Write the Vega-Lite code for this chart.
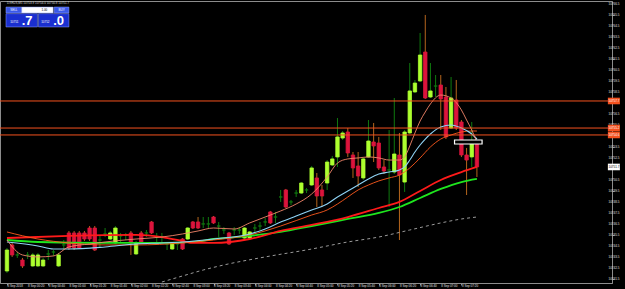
{
"$schema":"https://vega.github.io/schema/vega-lite/v6.json",
"width":612,"height":282,
"padding":{"left":0,"top":1,"right":13,"bottom":6},
"autosize":{"type":"none"},
"background":"#000000",
"config":{"view":{"stroke":"#8c8c8c","strokeWidth":1},"font":"Liberation Sans","axis":{"titleOpacity":0}},
"resolve":{"scale":{"color":"independent","fill":"independent"}},
"datasets":{
"candles":[
{"t":"2018-09-08T00:00","o":10742.22,"h":10744.31,"l":10742.04,"c":10744.13},
{"t":"2018-09-08T00:05","o":10744.59,"h":10744.77,"l":10743.5,"c":10743.68},
{"t":"2018-09-08T00:10","o":10743.68,"h":10743.95,"l":10743.41,"c":10743.68},
{"t":"2018-09-08T00:15","o":10743.22,"h":10743.41,"l":10742.5,"c":10742.68},
{"t":"2018-09-08T00:20","o":10743.68,"h":10743.95,"l":10743.31,"c":10743.68},
{"t":"2018-09-08T00:25","o":10742.68,"h":10743.86,"l":10742.59,"c":10743.68},
{"t":"2018-09-08T00:30","o":10742.68,"h":10743.86,"l":10742.59,"c":10743.68},
{"t":"2018-09-08T00:35","o":10742.68,"h":10743.41,"l":10742.59,"c":10743.22},
{"t":"2018-09-08T00:40","o":10743.77,"h":10744.13,"l":10743.22,"c":10743.77},
{"t":"2018-09-08T00:45","o":10743.95,"h":10744.13,"l":10743.59,"c":10743.95},
{"t":"2018-09-08T00:50","o":10742.68,"h":10743.86,"l":10742.59,"c":10743.68},
{"t":"2018-09-08T00:55","o":10744.59,"h":10745.04,"l":10744.13,"c":10744.59},
{"t":"2018-09-08T01:00","o":10745.68,"h":10745.86,"l":10744.13,"c":10744.31},
{"t":"2018-09-08T01:05","o":10745.68,"h":10745.86,"l":10744.13,"c":10744.31},
{"t":"2018-09-08T01:10","o":10745.68,"h":10745.86,"l":10744.22,"c":10744.31},
{"t":"2018-09-08T01:15","o":10745.68,"h":10745.86,"l":10744.95,"c":10745.13},
{"t":"2018-09-08T01:20","o":10746.13,"h":10746.31,"l":10744.95,"c":10745.13},
{"t":"2018-09-08T01:25","o":10746.13,"h":10746.31,"l":10744.04,"c":10744.13},
{"t":"2018-09-08T01:30","o":10745.04,"h":10745.41,"l":10744.31,"c":10745.04},
{"t":"2018-09-08T01:35","o":10745.59,"h":10746.13,"l":10745.31,"c":10745.59},
{"t":"2018-09-08T01:40","o":10745.13,"h":10745.86,"l":10745.04,"c":10745.68},
{"t":"2018-09-08T01:45","o":10744.77,"h":10746.31,"l":10744.68,"c":10746.13},
{"t":"2018-09-08T01:50","o":10745.41,"h":10745.68,"l":10744.77,"c":10745.41},
{"t":"2018-09-08T01:55","o":10745.5,"h":10745.68,"l":10745.04,"c":10745.5},
{"t":"2018-09-08T02:00","o":10745.68,"h":10745.86,"l":10743.68,"c":10744.77},
{"t":"2018-09-08T02:05","o":10743.77,"h":10744.95,"l":10743.68,"c":10744.77},
{"t":"2018-09-08T02:10","o":10745.68,"h":10745.86,"l":10744.77,"c":10744.86},
{"t":"2018-09-08T02:15","o":10745.68,"h":10745.95,"l":10745.31,"c":10745.68},
{"t":"2018-09-08T02:20","o":10746.68,"h":10746.77,"l":10745.59,"c":10745.68},
{"t":"2018-09-08T02:25","o":10745.31,"h":10745.68,"l":10744.77,"c":10745.31},
{"t":"2018-09-08T02:30","o":10745.31,"h":10745.68,"l":10744.77,"c":10745.31},
{"t":"2018-09-08T02:35","o":10744.68,"h":10744.77,"l":10744.13,"c":10744.68},
{"t":"2018-09-08T02:40","o":10744.22,"h":10744.86,"l":10744.13,"c":10744.77},
{"t":"2018-09-08T02:45","o":10744.68,"h":10744.77,"l":10744.13,"c":10744.68},
{"t":"2018-09-08T02:50","o":10745.13,"h":10745.22,"l":10744.13,"c":10744.22},
{"t":"2018-09-08T02:55","o":10745.13,"h":10746.22,"l":10745.04,"c":10746.13},
{"t":"2018-09-08T03:00","o":10746.68,"h":10746.77,"l":10746.04,"c":10746.13},
{"t":"2018-09-08T03:05","o":10746.68,"h":10747.13,"l":10746.04,"c":10746.13},
{"t":"2018-09-08T03:10","o":10746.5,"h":10747.13,"l":10746.13,"c":10746.5},
{"t":"2018-09-08T03:15","o":10746.5,"h":10747.13,"l":10746.13,"c":10746.5},
{"t":"2018-09-08T03:20","o":10747.13,"h":10747.22,"l":10746.5,"c":10746.59},
{"t":"2018-09-08T03:25","o":10746.31,"h":10746.68,"l":10745.31,"c":10746.31},
{"t":"2018-09-08T03:30","o":10745.95,"h":10746.22,"l":10745.59,"c":10745.95},
{"t":"2018-09-08T03:35","o":10745.68,"h":10745.77,"l":10744.59,"c":10744.68},
{"t":"2018-09-08T03:40","o":10745.95,"h":10746.22,"l":10745.5,"c":10745.95},
{"t":"2018-09-08T03:45","o":10745.95,"h":10746.22,"l":10745.59,"c":10745.95},
{"t":"2018-09-08T03:50","o":10745.22,"h":10746.22,"l":10745.13,"c":10746.13},
{"t":"2018-09-08T03:55","o":10745.22,"h":10745.86,"l":10745.13,"c":10745.77},
{"t":"2018-09-08T04:00","o":10746.13,"h":10746.5,"l":10745.77,"c":10746.13},
{"t":"2018-09-08T04:05","o":10746.31,"h":10746.68,"l":10745.95,"c":10746.31},
{"t":"2018-09-08T04:10","o":10746.68,"h":10747.04,"l":10746.31,"c":10746.68},
{"t":"2018-09-08T04:15","o":10747.59,"h":10747.68,"l":10746.5,"c":10746.59},
{"t":"2018-09-08T04:20","o":10747.13,"h":10747.59,"l":10746.59,"c":10747.13},
{"t":"2018-09-08T04:25","o":10748.95,"h":10749.59,"l":10748.5,"c":10748.95},
{"t":"2018-09-08T04:30","o":10749.59,"h":10749.68,"l":10747.95,"c":10748.04},
{"t":"2018-09-08T04:35","o":10748.5,"h":10748.68,"l":10748.22,"c":10748.5},
{"t":"2018-09-08T04:40","o":10749.31,"h":10749.59,"l":10748.95,"c":10749.31},
{"t":"2018-09-08T04:45","o":10749.31,"h":10750.31,"l":10749.22,"c":10750.22},
{"t":"2018-09-08T04:50","o":10749.59,"h":10749.77,"l":10749.31,"c":10749.59},
{"t":"2018-09-08T04:55","o":10750.04,"h":10751.77,"l":10749.95,"c":10751.59},
{"t":"2018-09-08T05:00","o":10750.68,"h":10751.13,"l":10748.04,"c":10749.04},
{"t":"2018-09-08T05:05","o":10749.59,"h":10750.04,"l":10748.04,"c":10749.04},
{"t":"2018-09-08T05:10","o":10750.22,"h":10752.31,"l":10749.59,"c":10752.13},
{"t":"2018-09-08T05:15","o":10751.86,"h":10752.68,"l":10751.77,"c":10752.41},
{"t":"2018-09-08T05:20","o":10752.59,"h":10756.13,"l":10751.68,"c":10754.41},
{"t":"2018-09-08T05:25","o":10754.31,"h":10754.95,"l":10754.13,"c":10754.77},
{"t":"2018-09-08T05:30","o":10754.86,"h":10755.22,"l":10752.59,"c":10752.95},
{"t":"2018-09-08T05:35","o":10752.77,"h":10753.04,"l":10750.68,"c":10751.59},
{"t":"2018-09-08T05:40","o":10751.77,"h":10753.04,"l":10749.86,"c":10750.86},
{"t":"2018-09-08T05:45","o":10750.68,"h":10752.59,"l":10750.5,"c":10752.41},
{"t":"2018-09-08T05:50","o":10752.59,"h":10755.95,"l":10752.5,"c":10754.04},
{"t":"2018-09-08T05:55","o":10753.95,"h":10755.68,"l":10752.13,"c":10753.59},
{"t":"2018-09-08T06:00","o":10753.86,"h":10754.41,"l":10751.41,"c":10751.59},
{"t":"2018-09-08T06:05","o":10751.68,"h":10752.31,"l":10751.04,"c":10751.31},
{"t":"2018-09-08T06:10","o":10751.41,"h":10755.04,"l":10748.04,"c":10751.41},
{"t":"2018-09-08T06:15","o":10751.22,"h":10757.95,"l":10751.04,"c":10752.86},
{"t":"2018-09-08T06:20","o":10752.77,"h":10754.77,"l":10745.04,"c":10750.95},
{"t":"2018-09-08T06:25","o":10750.31,"h":10755.04,"l":10749.41,"c":10754.86},
{"t":"2018-09-08T06:30","o":10754.77,"h":10761.13,"l":10754.68,"c":10758.59},
{"t":"2018-09-08T06:35","o":10758.5,"h":10759.59,"l":10758.41,"c":10759.31},
{"t":"2018-09-08T06:40","o":10759.5,"h":10763.86,"l":10759.41,"c":10761.86},
{"t":"2018-09-08T06:45","o":10762.13,"h":10765.5,"l":10757.86,"c":10757.95},
{"t":"2018-09-08T06:50","o":10758.04,"h":10761.13,"l":10757.95,"c":10758.59},
{"t":"2018-09-08T06:55","o":10759.04,"h":10760.04,"l":10758.04,"c":10759.04},
{"t":"2018-09-08T07:00","o":10759.13,"h":10760.04,"l":10755.04,"c":10757.86},
{"t":"2018-09-08T07:05","o":10758.04,"h":10758.95,"l":10754.22,"c":10754.41},
{"t":"2018-09-08T07:10","o":10755.22,"h":10759.86,"l":10755.13,"c":10757.95},
{"t":"2018-09-08T07:15","o":10757.77,"h":10759.59,"l":10755.04,"c":10755.22},
{"t":"2018-09-08T07:20","o":10755.77,"h":10755.95,"l":10752.59,"c":10752.77},
{"t":"2018-09-08T07:25","o":10752.77,"h":10753.41,"l":10749.13,"c":10752.31},
{"t":"2018-09-08T07:30","o":10752.59,"h":10755.77,"l":10751.68,"c":10753.86},
{"t":"2018-09-08T07:35","o":10753.86,"h":10754.04,"l":10750.77,"c":10751.68}
],
"ma":[
{"s":"ma200","t":"2018-09-08T02:30","p":10741.22},{"s":"ma200","t":"2018-09-08T02:50","p":10741.77},{"s":"ma200","t":"2018-09-08T03:10","p":10742.31},{"s":"ma200","t":"2018-09-08T03:30","p":10742.77},{"s":"ma200","t":"2018-09-08T04:10","p":10743.5},{"s":"ma200","t":"2018-09-08T04:55","p":10744.22},{"s":"ma200","t":"2018-09-08T05:30","p":10744.86},{"s":"ma200","t":"2018-09-08T06:00","p":10745.31},{"s":"ma200","t":"2018-09-08T06:30","p":10745.95},{"s":"ma200","t":"2018-09-08T07:00","p":10746.59},{"s":"ma200","t":"2018-09-08T07:20","p":10746.95},{"s":"ma200","t":"2018-09-08T07:35","p":10747.13},
{"s":"ma60","t":"2018-09-08T00:00","p":10745.04},{"s":"ma60","t":"2018-09-08T00:30","p":10744.86},{"s":"ma60","t":"2018-09-08T01:35","p":10744.77},{"s":"ma60","t":"2018-09-08T02:30","p":10744.77},{"s":"ma60","t":"2018-09-08T03:00","p":10744.86},{"s":"ma60","t":"2018-09-08T03:20","p":10745.13},{"s":"ma60","t":"2018-09-08T03:55","p":10745.41},{"s":"ma60","t":"2018-09-08T04:25","p":10745.77},{"s":"ma60","t":"2018-09-08T04:55","p":10746.31},{"s":"ma60","t":"2018-09-08T05:30","p":10746.95},{"s":"ma60","t":"2018-09-08T06:00","p":10747.5},{"s":"ma60","t":"2018-09-08T06:20","p":10748.04},{"s":"ma60","t":"2018-09-08T06:40","p":10748.86},{"s":"ma60","t":"2018-09-08T07:00","p":10749.68},{"s":"ma60","t":"2018-09-08T07:20","p":10750.31},{"s":"ma60","t":"2018-09-08T07:35","p":10750.59},
{"s":"ma50","t":"2018-09-08T00:00","p":10745.22},{"s":"ma50","t":"2018-09-08T01:00","p":10745.41},{"s":"ma50","t":"2018-09-08T02:05","p":10745.5},{"s":"ma50","t":"2018-09-08T02:30","p":10745.31},{"s":"ma50","t":"2018-09-08T02:50","p":10744.95},{"s":"ma50","t":"2018-09-08T03:00","p":10744.77},{"s":"ma50","t":"2018-09-08T03:20","p":10744.77},{"s":"ma50","t":"2018-09-08T03:55","p":10745.13},{"s":"ma50","t":"2018-09-08T04:25","p":10745.86},{"s":"ma50","t":"2018-09-08T04:55","p":10746.41},{"s":"ma50","t":"2018-09-08T05:30","p":10747.13},{"s":"ma50","t":"2018-09-08T06:00","p":10747.95},{"s":"ma50","t":"2018-09-08T06:20","p":10748.5},{"s":"ma50","t":"2018-09-08T06:40","p":10749.5},{"s":"ma50","t":"2018-09-08T07:00","p":10750.5},{"s":"ma50","t":"2018-09-08T07:20","p":10751.22},{"s":"ma50","t":"2018-09-08T07:35","p":10751.68},
{"s":"ma20","t":"2018-09-08T00:00","p":10745.77},{"s":"ma20","t":"2018-09-08T00:30","p":10745.13},{"s":"ma20","t":"2018-09-08T01:00","p":10744.77},{"s":"ma20","t":"2018-09-08T01:35","p":10744.59},{"s":"ma20","t":"2018-09-08T02:05","p":10744.59},{"s":"ma20","t":"2018-09-08T02:50","p":10744.77},{"s":"ma20","t":"2018-09-08T03:20","p":10745.04},{"s":"ma20","t":"2018-09-08T03:55","p":10745.5},{"s":"ma20","t":"2018-09-08T04:25","p":10746.31},{"s":"ma20","t":"2018-09-08T04:55","p":10747.31},{"s":"ma20","t":"2018-09-08T05:10","p":10747.77},{"s":"ma20","t":"2018-09-08T05:20","p":10748.31},{"s":"ma20","t":"2018-09-08T05:30","p":10748.95},{"s":"ma20","t":"2018-09-08T05:40","p":10749.59},{"s":"ma20","t":"2018-09-08T05:50","p":10750.04},{"s":"ma20","t":"2018-09-08T06:00","p":10750.41},{"s":"ma20","t":"2018-09-08T06:10","p":10750.68},{"s":"ma20","t":"2018-09-08T06:20","p":10750.95},{"s":"ma20","t":"2018-09-08T06:30","p":10751.59},{"s":"ma20","t":"2018-09-08T06:40","p":10752.5},{"s":"ma20","t":"2018-09-08T06:50","p":10753.5},{"s":"ma20","t":"2018-09-08T07:00","p":10754.22},{"s":"ma20","t":"2018-09-08T07:10","p":10754.59},{"s":"ma20","t":"2018-09-08T07:20","p":10754.86},{"s":"ma20","t":"2018-09-08T07:30","p":10754.95},{"s":"ma20","t":"2018-09-08T07:35","p":10754.95},
{"s":"ma10","t":"2018-09-08T00:00","p":10744.86},{"s":"ma10","t":"2018-09-08T00:30","p":10744.5},{"s":"ma10","t":"2018-09-08T00:45","p":10744.22},{"s":"ma10","t":"2018-09-08T01:00","p":10744.22},{"s":"ma10","t":"2018-09-08T01:35","p":10744.41},{"s":"ma10","t":"2018-09-08T02:05","p":10744.68},{"s":"ma10","t":"2018-09-08T02:30","p":10744.77},{"s":"ma10","t":"2018-09-08T02:50","p":10744.86},{"s":"ma10","t":"2018-09-08T03:20","p":10745.13},{"s":"ma10","t":"2018-09-08T03:55","p":10745.59},{"s":"ma10","t":"2018-09-08T04:10","p":10746.04},{"s":"ma10","t":"2018-09-08T04:25","p":10746.68},{"s":"ma10","t":"2018-09-08T04:40","p":10747.22},{"s":"ma10","t":"2018-09-08T04:55","p":10747.77},{"s":"ma10","t":"2018-09-08T05:10","p":10748.31},{"s":"ma10","t":"2018-09-08T05:20","p":10748.95},{"s":"ma10","t":"2018-09-08T05:30","p":10749.5},{"s":"ma10","t":"2018-09-08T05:40","p":10750.04},{"s":"ma10","t":"2018-09-08T05:50","p":10750.59},{"s":"ma10","t":"2018-09-08T06:00","p":10751.04},{"s":"ma10","t":"2018-09-08T06:10","p":10751.22},{"s":"ma10","t":"2018-09-08T06:20","p":10751.41},{"s":"ma10","t":"2018-09-08T06:25","p":10751.68},{"s":"ma10","t":"2018-09-08T06:30","p":10752.31},{"s":"ma10","t":"2018-09-08T06:35","p":10753.04},{"s":"ma10","t":"2018-09-08T06:40","p":10753.68},{"s":"ma10","t":"2018-09-08T06:45","p":10754.22},{"s":"ma10","t":"2018-09-08T06:50","p":10754.68},{"s":"ma10","t":"2018-09-08T07:00","p":10755.31},{"s":"ma10","t":"2018-09-08T07:10","p":10755.5},{"s":"ma10","t":"2018-09-08T07:20","p":10755.22},{"s":"ma10","t":"2018-09-08T07:30","p":10754.68},{"s":"ma10","t":"2018-09-08T07:35","p":10754.22},
{"s":"ma5","t":"2018-09-08T00:00","p":10745.04},{"s":"ma5","t":"2018-09-08T00:15","p":10743.68},{"s":"ma5","t":"2018-09-08T00:30","p":10743.5},{"s":"ma5","t":"2018-09-08T00:45","p":10743.59},{"s":"ma5","t":"2018-09-08T01:00","p":10744.41},{"s":"ma5","t":"2018-09-08T01:20","p":10744.68},{"s":"ma5","t":"2018-09-08T01:35","p":10744.86},{"s":"ma5","t":"2018-09-08T02:05","p":10745.13},{"s":"ma5","t":"2018-09-08T02:30","p":10745.31},{"s":"ma5","t":"2018-09-08T02:50","p":10745.59},{"s":"ma5","t":"2018-09-08T03:05","p":10745.86},{"s":"ma5","t":"2018-09-08T03:20","p":10746.13},{"s":"ma5","t":"2018-09-08T03:40","p":10746.04},{"s":"ma5","t":"2018-09-08T03:55","p":10746.59},{"s":"ma5","t":"2018-09-08T04:10","p":10747.13},{"s":"ma5","t":"2018-09-08T04:25","p":10747.68},{"s":"ma5","t":"2018-09-08T04:40","p":10748.31},{"s":"ma5","t":"2018-09-08T04:55","p":10749.22},{"s":"ma5","t":"2018-09-08T05:10","p":10750.77},{"s":"ma5","t":"2018-09-08T05:20","p":10752.04},{"s":"ma5","t":"2018-09-08T05:30","p":10752.41},{"s":"ma5","t":"2018-09-08T05:40","p":10752.5},{"s":"ma5","t":"2018-09-08T05:50","p":10752.59},{"s":"ma5","t":"2018-09-08T06:00","p":10752.5},{"s":"ma5","t":"2018-09-08T06:10","p":10752.31},{"s":"ma5","t":"2018-09-08T06:20","p":10752.31},{"s":"ma5","t":"2018-09-08T06:25","p":10752.59},{"s":"ma5","t":"2018-09-08T06:30","p":10753.59},{"s":"ma5","t":"2018-09-08T06:35","p":10754.77},{"s":"ma5","t":"2018-09-08T06:40","p":10755.86},{"s":"ma5","t":"2018-09-08T06:45","p":10756.68},{"s":"ma5","t":"2018-09-08T06:50","p":10757.41},{"s":"ma5","t":"2018-09-08T07:00","p":10758.22},{"s":"ma5","t":"2018-09-08T07:10","p":10757.95},{"s":"ma5","t":"2018-09-08T07:20","p":10756.86},{"s":"ma5","t":"2018-09-08T07:25","p":10755.95},{"s":"ma5","t":"2018-09-08T07:30","p":10755.04},{"s":"ma5","t":"2018-09-08T07:35","p":10753.95}
],
"hl":[{"p":10757.68},{"p":10755.22},{"p":10754.59}],
"tags":[{"p":10757.68,"txt":"10757.7","k":"o"},{"p":10755.22,"txt":"10755.2","k":"o"},{"p":10754.59,"txt":"10754.6","k":"o"},{"p":10751.68,"txt":"10751.7","k":"w"}],
"obj":[{"t1":"2018-09-08T07:13:20","t2":"2018-09-08T07:40:00","p1":10754.13,"p2":10753.77}],
"panel":[
{"t1":"2018-09-07T23:59:03","t2":"2018-09-08T00:14:17","p1":10766.22,"p2":10765.68,"k":"btn"},
{"t1":"2018-09-08T00:14:17","t2":"2018-09-08T00:44:46","p1":10766.22,"p2":10765.68,"k":"lot"},
{"t1":"2018-09-08T00:45:43","t2":"2018-09-08T01:00:00","p1":10766.22,"p2":10765.68,"k":"btn"},
{"t1":"2018-09-07T23:59:03","t2":"2018-09-08T00:29:31","p1":10765.62,"p2":10764.41,"k":"box"},
{"t1":"2018-09-08T00:30:29","t2":"2018-09-08T01:00:00","p1":10765.62,"p2":10764.41,"k":"box"}
],
"ptext":[
{"t":"2018-09-08T00:06:40","p":10765.95,"txt":"SELL","k":"w"},
{"t":"2018-09-08T00:36:11","p":10765.95,"txt":"1.00","k":"b"},
{"t":"2018-09-08T00:52:52","p":10765.95,"txt":"BUY","k":"w"},
{"t":"2018-09-08T00:07:09","p":10764.86,"txt":"10751","k":"w"},
{"t":"2018-09-08T00:37:09","p":10764.86,"txt":"10752","k":"w"}
],
"pbig":[
{"t":"2018-09-08T00:14:17","p":10764.95,"txt":".7"},
{"t":"2018-09-08T00:44:46","p":10764.95,"txt":".0"}
],
"head":[{"t":"2018-09-08T00:00","p":10766.63,"txt":"DXRUS,M5  10753.9 10754.0 10750.8 10751.7"}],
"xlab":[
{"t":"2018-09-08T00:00","lab":"8 Sep 2018"},{"t":"2018-09-08T00:20","lab":"8 Sep 00:20"},{"t":"2018-09-08T00:40","lab":"8 Sep 00:40"},{"t":"2018-09-08T01:00","lab":"8 Sep 01:00"},{"t":"2018-09-08T01:20","lab":"8 Sep 01:20"},{"t":"2018-09-08T01:40","lab":"8 Sep 01:40"},{"t":"2018-09-08T02:00","lab":"8 Sep 02:00"},{"t":"2018-09-08T02:20","lab":"8 Sep 02:20"},{"t":"2018-09-08T02:40","lab":"8 Sep 02:40"},{"t":"2018-09-08T03:00","lab":"8 Sep 03:00"},{"t":"2018-09-08T03:20","lab":"8 Sep 03:20"},{"t":"2018-09-08T03:40","lab":"8 Sep 03:40"},{"t":"2018-09-08T04:00","lab":"8 Sep 04:00"},{"t":"2018-09-08T04:20","lab":"8 Sep 04:20"},{"t":"2018-09-08T04:40","lab":"8 Sep 04:40"},{"t":"2018-09-08T05:00","lab":"8 Sep 05:00"},{"t":"2018-09-08T05:20","lab":"8 Sep 05:20"},{"t":"2018-09-08T05:40","lab":"8 Sep 05:40"},{"t":"2018-09-08T06:00","lab":"8 Sep 06:00"},{"t":"2018-09-08T06:20","lab":"8 Sep 06:20"},{"t":"2018-09-08T06:40","lab":"8 Sep 06:40"},{"t":"2018-09-08T07:00","lab":"8 Sep 07:00"},{"t":"2018-09-08T07:20","lab":"8 Sep 07:20"}
],
"ylab":[{"p":10741.5},{"p":10742.5},{"p":10743.5},{"p":10744.5},{"p":10745.5},{"p":10746.5},{"p":10747.5},{"p":10748.5},{"p":10749.5},{"p":10750.5},{"p":10751.5},{"p":10752.5},{"p":10753.5},{"p":10754.5},{"p":10755.5},{"p":10756.5},{"p":10757.5},{"p":10758.5},{"p":10759.5},{"p":10760.5},{"p":10761.5},{"p":10762.5},{"p":10763.5},{"p":10764.5},{"p":10765.5},{"p":10766.5}]
},
"layer":[
{"data":{"name":"candles"},"mark":{"type":"rule","strokeWidth":1},
"encoding":{
"x":{"field":"t","type":"temporal","title":null,
"scale":{"domain":[{"year":2018,"month":9,"date":7,"hours":23,"minutes":58,"seconds":6},{"year":2018,"month":9,"date":8,"hours":9,"minutes":40,"seconds":57}],"nice":false},
"axis":{"title":null,"grid":false,"labels":false,"domainColor":"#8c8c8c","tickColor":"#8c8c8c","tickSize":2,
"values":[{"year":2018,"month":9,"date":8,"hours":0,"minutes":0},{"year":2018,"month":9,"date":8,"hours":0,"minutes":20},{"year":2018,"month":9,"date":8,"hours":0,"minutes":40},{"year":2018,"month":9,"date":8,"hours":1,"minutes":0},{"year":2018,"month":9,"date":8,"hours":1,"minutes":20},{"year":2018,"month":9,"date":8,"hours":1,"minutes":40},{"year":2018,"month":9,"date":8,"hours":2,"minutes":0},{"year":2018,"month":9,"date":8,"hours":2,"minutes":20},{"year":2018,"month":9,"date":8,"hours":2,"minutes":40},{"year":2018,"month":9,"date":8,"hours":3,"minutes":0},{"year":2018,"month":9,"date":8,"hours":3,"minutes":20},{"year":2018,"month":9,"date":8,"hours":3,"minutes":40},{"year":2018,"month":9,"date":8,"hours":4,"minutes":0},{"year":2018,"month":9,"date":8,"hours":4,"minutes":20},{"year":2018,"month":9,"date":8,"hours":4,"minutes":40},{"year":2018,"month":9,"date":8,"hours":5,"minutes":0},{"year":2018,"month":9,"date":8,"hours":5,"minutes":20},{"year":2018,"month":9,"date":8,"hours":5,"minutes":40},{"year":2018,"month":9,"date":8,"hours":6,"minutes":0},{"year":2018,"month":9,"date":8,"hours":6,"minutes":20},{"year":2018,"month":9,"date":8,"hours":6,"minutes":40},{"year":2018,"month":9,"date":8,"hours":7,"minutes":0},{"year":2018,"month":9,"date":8,"hours":7,"minutes":20}]}},
"y":{"field":"l","type":"quantitative","title":null,
"scale":{"domain":[10741.13,10766.77],"zero":false,"nice":false},
"axis":{"title":null,"orient":"right","grid":false,"labels":false,"domainColor":"#8c8c8c","tickColor":"#8c8c8c","tickSize":2,
"values":[10741.5,10742.5,10743.5,10744.5,10745.5,10746.5,10747.5,10748.5,10749.5,10750.5,10751.5,10752.5,10753.5,10754.5,10755.5,10756.5,10757.5,10758.5,10759.5,10760.5,10761.5,10762.5,10763.5,10764.5,10765.5,10766.5]}},
"y2":{"field":"h"},
"color":{"condition":{"test":"datum.c < datum.o","value":"#b5651d"},"value":"#0f7a0f"}}},
{"data":{"name":"candles"},"mark":{"type":"bar","size":3.4,"strokeWidth":0.8},
"encoding":{"x":{"field":"t","type":"temporal"},"y":{"field":"o","type":"quantitative"},"y2":{"field":"c"},
"fill":{"condition":[{"test":"datum.c < datum.o","value":"#dc143c"},{"test":"datum.c > datum.o","value":"#adff2f"}],"value":"#0f7a0f"},
"stroke":{"condition":[{"test":"datum.c < datum.o","value":"#dc143c"},{"test":"datum.c > datum.o","value":"#adff2f"}],"value":"#0f7a0f"}}},
{"data":{"name":"ma"},"transform":[{"filter":"datum.s == 'ma200'"}],"mark":{"type":"line","interpolate":"monotone","color":"#9a9a9a","strokeWidth":1,"strokeDash":[3,3]},
"encoding":{"x":{"field":"t","type":"temporal"},"y":{"field":"p","type":"quantitative"}}},
{"data":{"name":"ma"},"transform":[{"filter":"datum.s == 'ma60'"}],"mark":{"type":"line","interpolate":"monotone","color":"#1ee61e","strokeWidth":1.8},
"encoding":{"x":{"field":"t","type":"temporal"},"y":{"field":"p","type":"quantitative"}}},
{"data":{"name":"ma"},"transform":[{"filter":"datum.s == 'ma50'"}],"mark":{"type":"line","interpolate":"monotone","color":"#ff1a1a","strokeWidth":1.8},
"encoding":{"x":{"field":"t","type":"temporal"},"y":{"field":"p","type":"quantitative"}}},
{"data":{"name":"ma"},"transform":[{"filter":"datum.s == 'ma20'"}],"mark":{"type":"line","interpolate":"monotone","color":"#ff5a1e","strokeWidth":0.9},
"encoding":{"x":{"field":"t","type":"temporal"},"y":{"field":"p","type":"quantitative"}}},
{"data":{"name":"ma"},"transform":[{"filter":"datum.s == 'ma10'"}],"mark":{"type":"line","interpolate":"monotone","color":"#8fd3f5","strokeWidth":1.1},
"encoding":{"x":{"field":"t","type":"temporal"},"y":{"field":"p","type":"quantitative"}}},
{"data":{"name":"ma"},"transform":[{"filter":"datum.s == 'ma5'"}],"mark":{"type":"line","interpolate":"monotone","color":"#f4866a","strokeWidth":0.9},
"encoding":{"x":{"field":"t","type":"temporal"},"y":{"field":"p","type":"quantitative"}}},
{"data":{"name":"hl"},"mark":{"type":"rule","color":"#f4511e","strokeWidth":1},
"encoding":{"y":{"field":"p","type":"quantitative"}}},
{"data":{"name":"obj"},"mark":{"type":"rect","fill":"#000000","stroke":"#ffffff","strokeWidth":1.2},
"encoding":{"x":{"field":"t1","type":"temporal"},"x2":{"field":"t2"},"y":{"field":"p1","type":"quantitative"},"y2":{"field":"p2"}}},
{"data":{"name":"ylab"},"mark":{"type":"text","align":"left","baseline":"middle","fontSize":3,"color":"#e0e0e0"},
"encoding":{"x":{"datum":{"year":2018,"month":9,"date":8,"hours":9,"minutes":42,"seconds":24},"type":"temporal"},"y":{"field":"p","type":"quantitative"},"text":{"field":"p","type":"quantitative","format":".1f"}}},
{"data":{"name":"xlab"},"mark":{"type":"text","align":"left","baseline":"top","fontSize":3,"color":"#e0e0e0","dx":0.5},
"encoding":{"x":{"field":"t","type":"temporal"},"y":{"datum":10740.97,"type":"quantitative"},"text":{"field":"lab"}}},
{"data":{"name":"tags"},"mark":{"type":"point","shape":"M-1,-0.55H1V0.55H-1Z","filled":true,"size":144,"opacity":1},
"encoding":{"x":{"datum":{"year":2018,"month":9,"date":8,"hours":9,"minutes":47,"seconds":36},"type":"temporal"},"y":{"field":"p","type":"quantitative"},
"color":{"field":"k","type":"nominal","scale":{"domain":["o","w"],"range":["#f4511e","#ffffff"]},"legend":null}}},
{"data":{"name":"tags"},"mark":{"type":"text","align":"left","baseline":"middle","fontSize":3},
"encoding":{"x":{"datum":{"year":2018,"month":9,"date":8,"hours":9,"minutes":42,"seconds":24},"type":"temporal"},"y":{"field":"p","type":"quantitative"},"text":{"field":"txt"},
"color":{"field":"k","type":"nominal","scale":{"domain":["o","w"],"range":["#ffffff","#000000"]},"legend":null}}},
{"data":{"name":"panel"},"mark":{"type":"rect","stroke":"#8ea0ff","strokeWidth":0.5},
"encoding":{"x":{"field":"t1","type":"temporal"},"x2":{"field":"t2"},"y":{"field":"p1","type":"quantitative"},"y2":{"field":"p2"},
"fill":{"field":"k","type":"nominal","scale":{"domain":["btn","lot","box"],"range":["#3a58ea","#ffffff","#1a2fd0"]},"legend":null}}},
{"data":{"name":"ptext"},"mark":{"type":"text","align":"center","baseline":"middle","fontSize":3},
"encoding":{"x":{"field":"t","type":"temporal"},"y":{"field":"p","type":"quantitative"},"text":{"field":"txt"},
"color":{"field":"k","type":"nominal","scale":{"domain":["w","b"],"range":["#ffffff","#000000"]},"legend":null}}},
{"data":{"name":"pbig"},"mark":{"type":"text","align":"left","baseline":"middle","fontSize":13,"fontWeight":"bold","color":"#ffffff"},
"encoding":{"x":{"field":"t","type":"temporal"},"y":{"field":"p","type":"quantitative"},"text":{"field":"txt"}}},
{"data":{"name":"head"},"mark":{"type":"text","align":"left","baseline":"middle","fontSize":3,"color":"#d8d8d8"},
"encoding":{"x":{"field":"t","type":"temporal"},"y":{"field":"p","type":"quantitative"},"text":{"field":"txt"}}}
]
}
